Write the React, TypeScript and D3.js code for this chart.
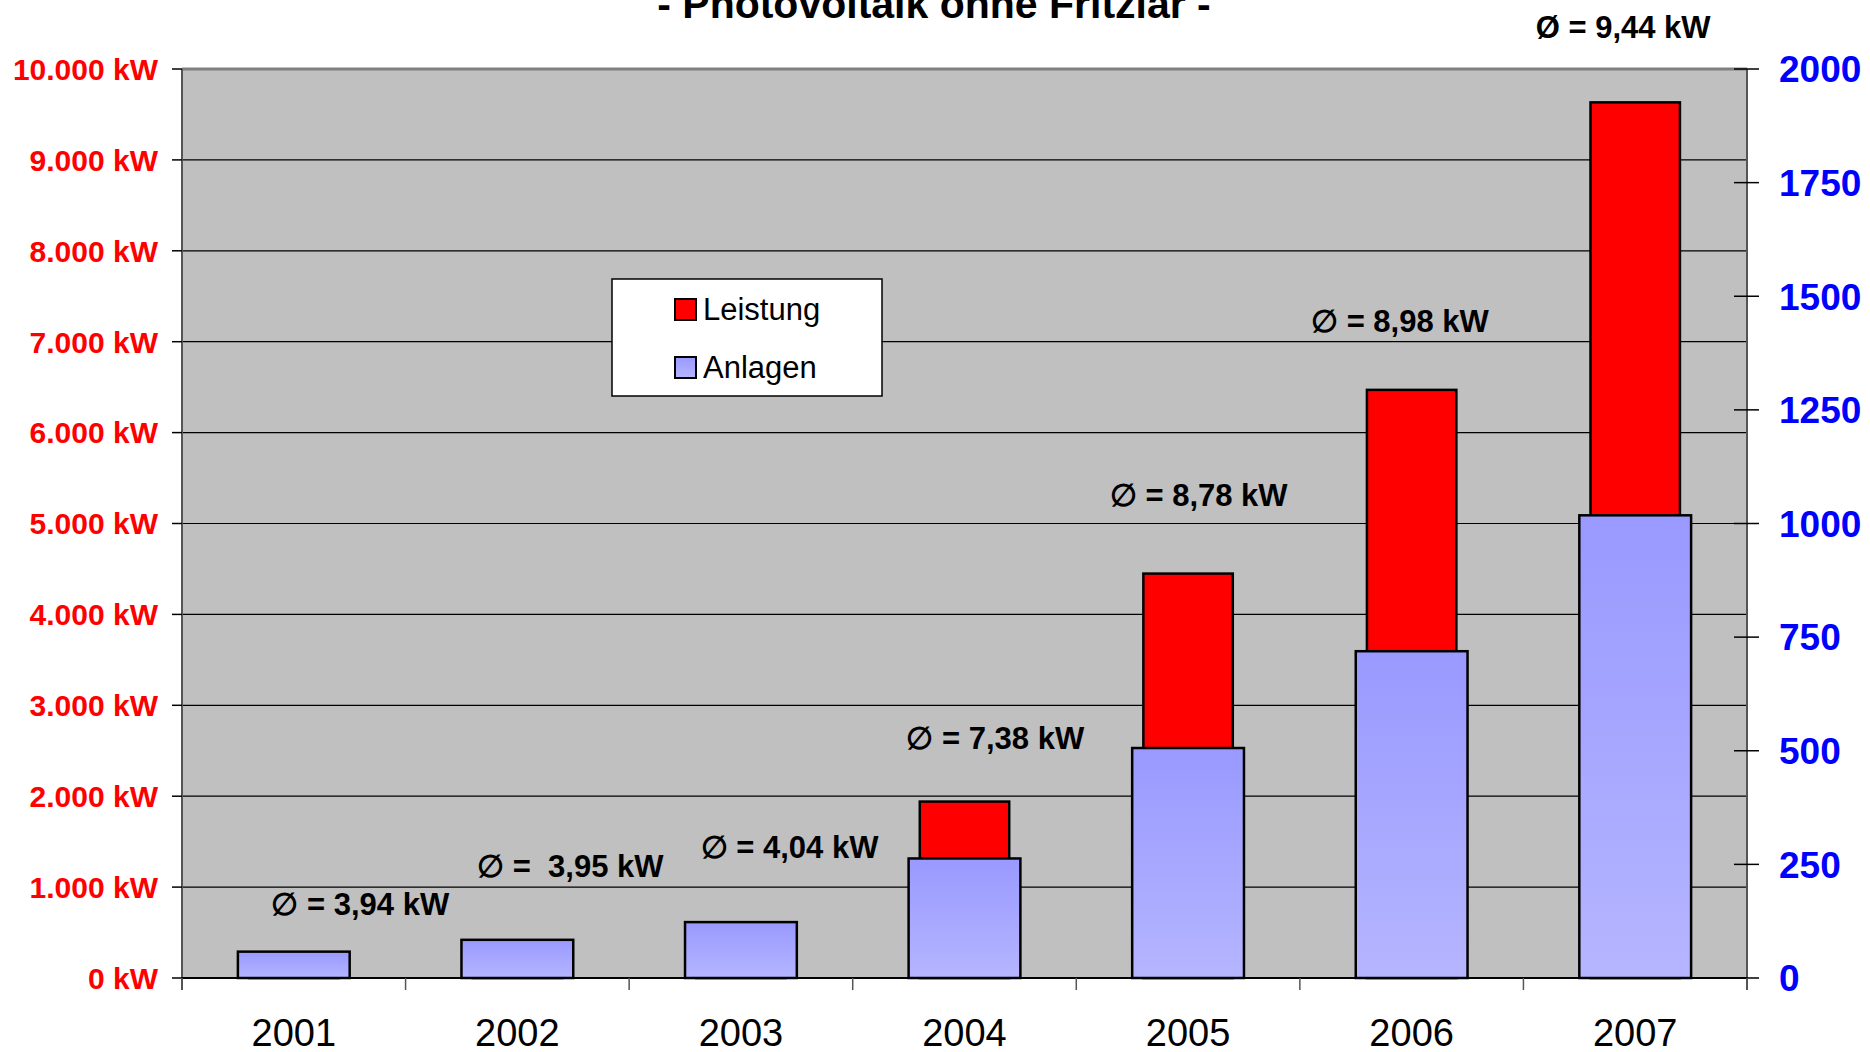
import React from 'react';
import * as d3 from 'd3';

const years = ['2001', '2002', '2003', '2004', '2005', '2006', '2007'];
const leistung = [228, 332, 497, 1941, 4449, 6470, 9633];
const anlagen = [58, 84, 123, 263, 506, 719, 1018];
const avgLabels = ['∅ = 3,94 kW', '∅ =  3,95 kW', '∅ = 4,04 kW', '∅ = 7,38 kW', '∅ = 8,78 kW', '∅ = 8,98 kW', 'Ø = 9,44 kW'];
// label anchor: offset from category centre (fraction of band) and baseline height in kW
const labelDx = [-0.1, -0.18, -0.18, -0.26, -0.35, -0.45, -0.445];
const labelKw = [690, 1115, 1315, 2520, 5190, 7110, 10340];
const leftTicks = [0, 1000, 2000, 3000, 4000, 5000, 6000, 7000, 8000, 9000, 10000];
const rightTicks = [0, 250, 500, 750, 1000, 1250, 1500, 1750, 2000];
const title = '- Photovoltaik ohne Fritzlar -';

const W = 1870, H = 1052;
const L = 182, R = 1747, T = 69, B = 978;

export default function App() {
  const x = d3.scaleBand<string>().domain(years).range([L, R]).padding(0);
  const yL = d3.scaleLinear().domain([0, 10000]).range([B, T]);
  const yR = d3.scaleLinear().domain([0, 2000]).range([B, T]);
  const bw = x.bandwidth();
  const fmt = (v: number) => d3.format(',')(v).replace(/,/g, '.') + ' kW';
  const arial = 'Liberation Sans, Arial, sans-serif';
  return (
    <svg width={W} height={H} style={{ position: 'absolute', left: 0, top: 0 }}>
      <defs>
        <linearGradient id="blueGrad" x1="0" y1="0" x2="0" y2="1">
          <stop offset="0" stopColor="#9999ff" />
          <stop offset="1" stopColor="#b5b5ff" />
        </linearGradient>
      </defs>
      <rect x={0} y={0} width={W} height={H} fill="#ffffff" />
      <rect x={L} y={T} width={R - L} height={B - T} fill="#c0c0c0" />
      {leftTicks.slice(1).map((t) => (
        <line key={'g' + t} x1={L} x2={R} y1={yL(t)} y2={yL(t)} stroke={t === 10000 ? '#808080' : '#000'} strokeWidth={t === 10000 ? 3 : 1.2} />
      ))}
      {/* left axis */}
      <line x1={L} x2={L} y1={T} y2={B + 12} stroke="#555" strokeWidth={2} />
      {leftTicks.map((t) => (
        <g key={'l' + t}>
          <line x1={L - 10} x2={L} y1={yL(t)} y2={yL(t)} stroke="#000" strokeWidth={1.5} />
          <text x={158} y={yL(t)} dy="0.36em" textAnchor="end" fill="#ff0000" fontFamily={arial} fontWeight="bold" fontSize={30}>{fmt(t)}</text>
        </g>
      ))}
      {/* right axis */}
      <line x1={R} x2={R} y1={T} y2={B + 12} stroke="#555" strokeWidth={2} />
      {rightTicks.map((t) => (
        <g key={'r' + t}>
          <line x1={R - 13} x2={R + 12} y1={yR(t)} y2={yR(t)} stroke="#000" strokeWidth={1.5} />
          <text x={1779} y={yR(t)} dy="0.36em" textAnchor="start" fill="#0000ff" fontFamily={arial} fontWeight="bold" fontSize={37}>{t}</text>
        </g>
      ))}
      {/* bars */}
      {years.map((yr, i) => {
        const cx = (x(yr) as number) + bw / 2;
        const rw = bw * 0.4;
        const aw = bw * 0.5;
        return (
          <g key={'b' + yr}>
            <rect x={cx - rw / 2} y={yL(leistung[i])} width={rw} height={B - yL(leistung[i])} fill="#ff0000" stroke="#000" strokeWidth={2.5} />
            <rect x={cx - aw / 2} y={yR(anlagen[i])} width={aw} height={B - yR(anlagen[i])} fill="url(#blueGrad)" stroke="#000" strokeWidth={2.5} />
          </g>
        );
      })}
      {/* x axis */}
      <line x1={L} x2={R} y1={B} y2={B} stroke="#000" strokeWidth={2} />
      {d3.range(years.length + 1).map((k) => (
        <line key={'xt' + k} x1={L + k * bw} x2={L + k * bw} y1={B} y2={B + 12} stroke="#555" strokeWidth={1.5} />
      ))}
      {years.map((yr) => (
        <text key={'yl' + yr} x={(x(yr) as number) + bw / 2} y={1046} textAnchor="middle" fill="#000" fontFamily={arial} fontSize={38}>{yr}</text>
      ))}
      {/* average labels */}
      {years.map((yr, i) => (
        <text key={'al' + yr} x={(x(yr) as number) + bw / 2 + labelDx[i] * bw} y={yL(labelKw[i])} fill="#000" fontFamily={arial} fontWeight="bold" fontSize={31} style={{ whiteSpace: 'pre' }}>{avgLabels[i]}</text>
      ))}
      {/* title */}
      <text x={934} y={18} textAnchor="middle" fill="#000" fontFamily={arial} fontWeight="bold" fontSize={41}>{title}</text>
      {/* legend */}
      <rect x={612} y={279} width={270} height={117} fill="#fff" stroke="#000" strokeWidth={1.5} />
      <rect x={675} y={299} width={21} height={21} fill="#ff0000" stroke="#000" strokeWidth={2} />
      <text x={703} y={320} fill="#000" fontFamily={arial} fontSize={31}>Leistung</text>
      <rect x={675} y={357} width={21} height={21} fill="url(#blueGrad)" stroke="#000" strokeWidth={2} />
      <text x={703} y={378} fill="#000" fontFamily={arial} fontSize={31}>Anlagen</text>
    </svg>
  );
}
